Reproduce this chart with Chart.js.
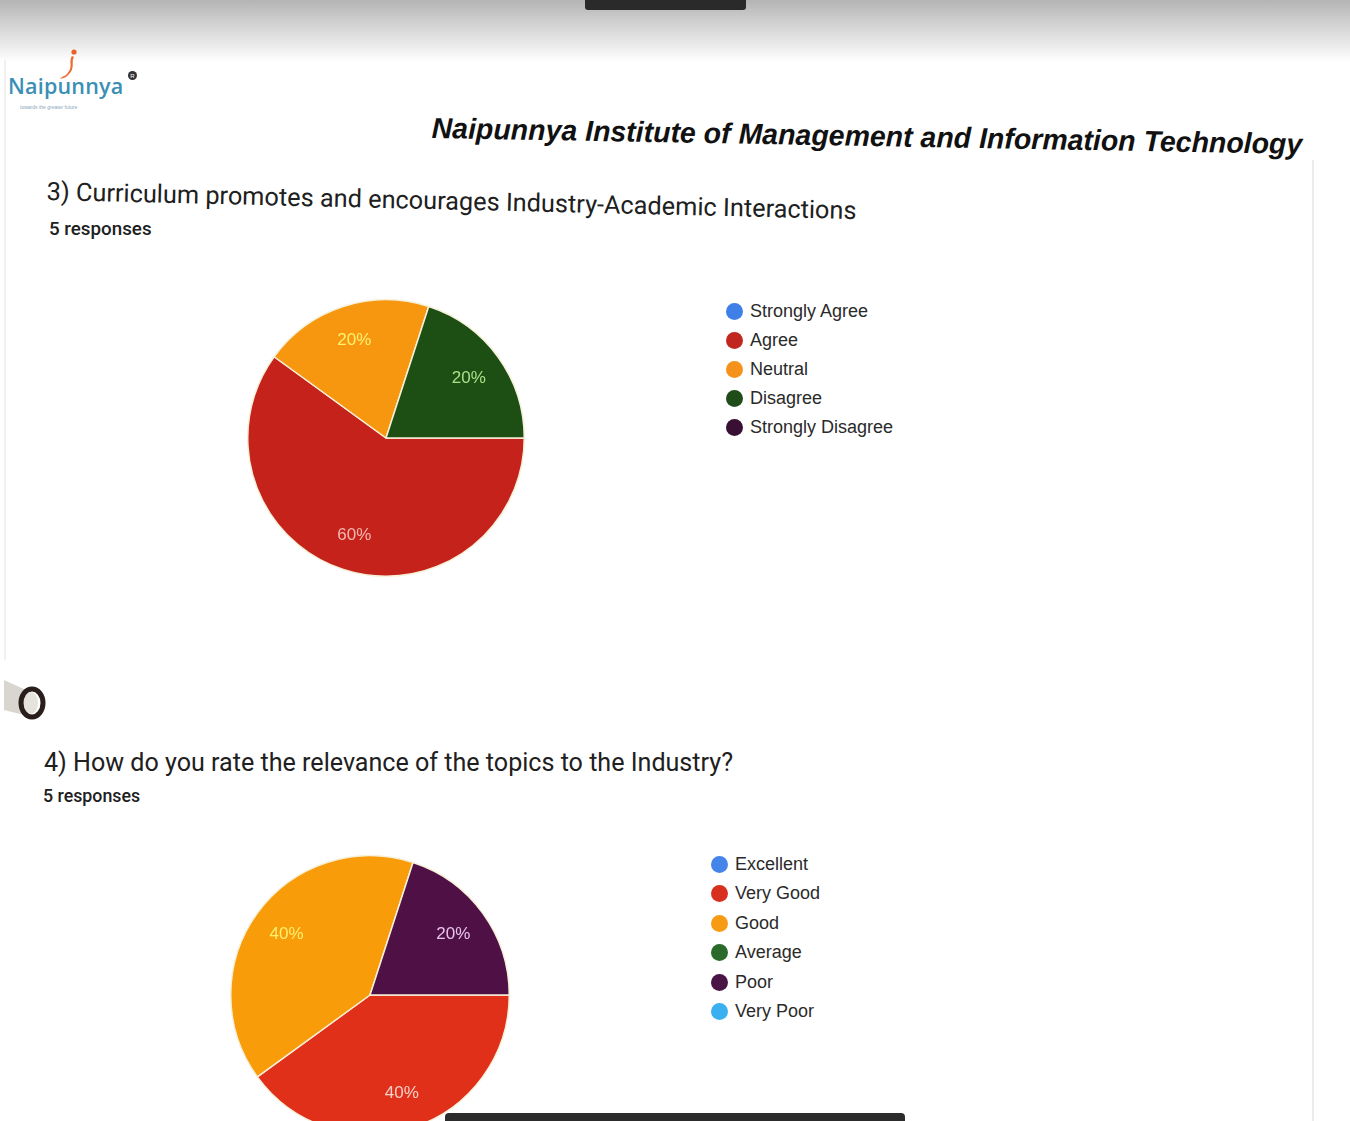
<!DOCTYPE html>
<html>
<head>
<meta charset="utf-8">
<script src="https://cdn.jsdelivr.net/npm/chart.js@4/dist/chart.umd.min.js"></script>
<style>
  html, body { margin: 0; padding: 0; }
  body { width: 1350px; height: 1121px; overflow: hidden; position: relative; background: #ffffff;
         font-family: "Liberation Sans", Arial, sans-serif; color: #1e1e1e; }
  .abs { position: absolute; white-space: nowrap; }
  #topshade { left: 0; top: 0; width: 1350px; height: 62px;
              background: linear-gradient(#b4b4b4 0%, #cfcfcf 35%, #ececec 75%, #ffffff 100%); }
  #topbar { left: 585px; top: 0; width: 161px; height: 10px; background: #2a2a2a; border-radius: 0 0 3px 3px; }
  #bottombar { left: 445px; top: 1113px; width: 460px; height: 10px; background: #2c2c2c; border-radius: 4px 4px 0 0; z-index: 5; }
  #rightedge { left: 1312px; top: 160px; width: 2px; height: 961px; background: #ececf0; }
  #leftedge { left: 4px; top: 60px; width: 2px; height: 600px; background: #f0f0f0; }
  #brand { left: 8px; top: 74px; font-family: "Open Sans", sans-serif; font-weight: 600; font-size: 21.5px; color: #3b8fb5; letter-spacing: 0.2px; line-height: 24px; }
  #tagline { left: 20px; top: 104px; font-size: 5px; color: #8aa8c0; }
  #header { left: 432px; top: 112px; font-family: "Liberation Sans Narrow", "Liberation Sans", Arial, sans-serif;
            font-weight: bold; font-style: italic; font-size: 29px; color: #111;
            transform-origin: 0 0; transform: rotate(1.05deg) scaleX(0.982); }
  .qtitle { font-family: Roboto, "Open Sans", sans-serif; color: #202020; }
  #q3 { left: 47px; top: 177px; font-size: 25.3px; transform-origin: 0 0; transform: rotate(1.35deg); }
  #q3r { left: 49px; top: 218px; font-size: 18.8px; font-weight: 500; }
  #q4 { left: 44px; top: 748px; font-size: 25.1px; }
  #q4r { left: 43px; top: 785px; font-size: 17.8px; font-weight: 500; }
  .legend { position: absolute; font-family: "Liberation Sans", Arial, sans-serif; font-size: 18px; color: #2a2a2a; }
  .legend .row { position: absolute; left: 0; white-space: nowrap; }
  .legend .dot { position: absolute; width: 17px; height: 17px; border-radius: 50%; left: 0; top: 0; filter: blur(0.4px); }
  .legend .txt { position: absolute; left: 24px; top: -2px; }
  canvas { position: absolute; }
  #clip { left: 4px; top: 676px; width: 42px; height: 44px; }
</style>
</head>
<body>
<div id="topshade" class="abs"></div>
<div id="topbar" class="abs"></div>
<div id="rightedge" class="abs"></div>
<div id="leftedge" class="abs"></div>

<svg class="abs" style="left:52px;top:48px" width="32" height="34" viewBox="0 0 32 34">
  <circle cx="22" cy="4" r="2.6" fill="#e8602a"/>
  <path d="M20 8 C16 14, 22 18, 15 26 C12 29, 10 28, 8 31 C12 30, 15 29, 18 25 C23 19, 19 13, 22 9 Z" fill="#ef6a2c"/>
</svg>
<div id="brand" class="abs">Naipunnya</div>
<svg class="abs" style="left:127px;top:70px" width="11" height="11"><circle cx="5.5" cy="5.5" r="4.5" fill="#333"/><text x="5.5" y="8" font-size="6" text-anchor="middle" fill="#fff" font-family="Liberation Sans">R</text></svg>
<div id="tagline" class="abs">towards the greater future</div>

<div id="header" class="abs">Naipunnya Institute of Management and Information Technology</div>

<div id="q3" class="abs qtitle">3) Curriculum promotes and encourages Industry-Academic Interactions</div>
<div id="q3r" class="abs qtitle">5 responses</div>
<canvas id="pie3" width="278" height="278" style="left:247px;top:299px;width:278px;height:278px"></canvas>
<div id="legend3" class="legend" style="left:726px;top:303px"></div>

<svg id="clip" class="abs" viewBox="0 0 42 44">
  <path d="M0 4 L22 14 L24 40 L0 34 Z" fill="#d8d6cf"/>
  <ellipse cx="28" cy="27" rx="11" ry="14" fill="none" stroke="#2a1e1a" stroke-width="5"/>
  <ellipse cx="27" cy="27" rx="7" ry="11" fill="#e6e3dc"/>
</svg>

<div id="q4" class="abs qtitle">4) How do you rate the relevance of the topics to the Industry?</div>
<div id="q4r" class="abs qtitle">5 responses</div>
<canvas id="pie4" width="280" height="280" style="left:230px;top:855px;width:280px;height:280px"></canvas>
<div id="legend4" class="legend" style="left:711px;top:856px"></div>

<div id="bottombar" class="abs"></div>

<script>
// Question 3: Curriculum promotes and encourages Industry-Academic Interactions (5 responses)
const q3Labels = ["Strongly Agree", "Agree", "Neutral", "Disagree", "Strongly Disagree"];
const q3Counts = [0, 3, 1, 1, 0];
const q3Colors = ["#3d7be6", "#c4221b", "#f7970f", "#1d4e13", "#3a0f36"];
const q3LegendColors = ["#3f7fe8", "#c0281f", "#f5921c", "#1f4d1a", "#3a0f34"];
const q3TextColors = ["#ffffff", "#f4b8b0", "#fff070", "#a8e088", "#ffffff"];

// Question 4: How do you rate the relevance of the topics to the Industry? (5 responses)
const q4Labels = ["Excellent", "Very Good", "Good", "Average", "Poor", "Very Poor"];
const q4Counts = [0, 2, 2, 0, 1, 0];
const q4Colors = ["#3f80e8", "#e0301a", "#f89c0a", "#23641f", "#4f1046", "#36aef0"];
const q4LegendColors = ["#4585ea", "#d8301f", "#f79a14", "#2a6a2a", "#4a1545", "#3ab0f0"];
const q4TextColors = ["#ffffff", "#f6d0c8", "#fff070", "#ffffff", "#e8c4ea", "#ffffff"];

// Percentage text drawn inside each non-empty slice
const sliceLabels = {
  id: "sliceLabels",
  afterDatasetsDraw(chart, args, opts) {
    const ctx = chart.ctx;
    const ds = chart.data.datasets[0];
    const total = ds.data.reduce((a, b) => a + b, 0);
    chart.getDatasetMeta(0).data.forEach((arc, i) => {
      const v = ds.data[i];
      if (!v) return;
      const p = arc.getProps(["x", "y", "startAngle", "endAngle", "outerRadius"], true);
      const mid = (p.startAngle + p.endAngle) / 2;
      const r = p.outerRadius * opts.radiusFraction;
      ctx.save();
      ctx.font = opts.font;
      ctx.fillStyle = opts.colors[i];
      ctx.textAlign = "center";
      ctx.textBaseline = "middle";
      ctx.fillText(Math.round(v / total * 100) + "%", p.x + Math.cos(mid) * r, p.y + Math.sin(mid) * r);
      ctx.restore();
    });
  }
};

function makePie(id, labels, counts, colors, textColors) {
  return new Chart(document.getElementById(id), {
    type: "pie",
    data: {
      labels: labels,
      datasets: [{
        data: counts,
        backgroundColor: colors,
        borderColor: "#f6f0d8",
        borderWidth: 1.5
      }]
    },
    options: {
      responsive: false,
      animation: false,
      rotation: 90,
      layout: { padding: 0 },
      plugins: {
        legend: { display: false },
        tooltip: { enabled: false },
        sliceLabels: { radiusFraction: 0.74, font: "17px 'Liberation Sans', Arial, sans-serif", colors: textColors }
      }
    },
    plugins: [sliceLabels]
  });
}

function makeLegend(id, labels, colors, step) {
  const box = document.getElementById(id);
  labels.forEach((name, i) => {
    const row = document.createElement("div");
    row.className = "row";
    row.style.top = (i * step) + "px";
    const dot = document.createElement("span");
    dot.className = "dot";
    dot.style.background = colors[i];
    const txt = document.createElement("span");
    txt.className = "txt";
    txt.textContent = name;
    row.appendChild(dot);
    row.appendChild(txt);
    box.appendChild(row);
  });
}

makePie("pie3", q3Labels, q3Counts, q3Colors, q3TextColors);
makePie("pie4", q4Labels, q4Counts, q4Colors, q4TextColors);
makeLegend("legend3", q3Labels, q3LegendColors, 29);
makeLegend("legend4", q4Labels, q4LegendColors, 29.4);
</script>
</body>
</html>
